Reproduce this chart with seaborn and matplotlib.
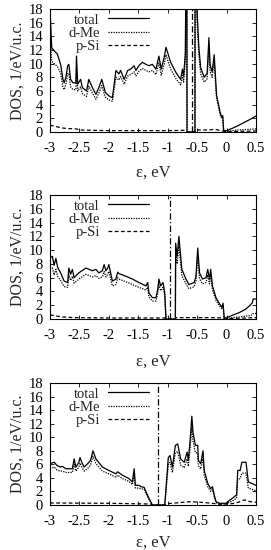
import matplotlib
matplotlib.use("Agg")
import matplotlib.pyplot as plt
import seaborn as sns
import pandas as pd

# ---------------- data ----------------
# Panel 1
x1 = [-3.00, -2.99, -2.97, -2.93, -2.875, -2.82, -2.78, -2.76, -2.73, -2.70, -2.68, -2.65, -2.61, -2.56,
      -2.55, -2.53, -2.48, -2.45, -2.38, -2.34, -2.28, -2.22, -2.17, -2.12, -2.06, -2.00, -1.94, -1.88,
      -1.83, -1.80, -1.74, -1.68, -1.63, -1.57, -1.54, -1.49, -1.43, -1.37, -1.32, -1.26, -1.20, -1.15,
      -1.11, -1.06, -1.03, -0.95, -0.86, -0.78, -0.75, -0.73, -0.70, -0.69, -0.675, -0.672, -0.537,
      -0.535, -0.51, -0.503, -0.49, -0.47, -0.44, -0.38, -0.33, -0.30, -0.28, -0.245, -0.21, -0.195,
      -0.17, -0.11, -0.085, -0.065, -0.05, 0.0, 0.1, 0.2, 0.3, 0.4, 0.5]
total1 = [18.0, 16.0, 12.3, 11.9, 11.4, 9.9, 7.7, 7.2, 8.0, 9.7, 9.9, 7.7, 7.2, 7.2,
          11.1, 7.0, 7.7, 6.5, 6.0, 7.7, 6.5, 5.5, 6.5, 7.7, 5.8, 5.3, 5.0, 9.0,
          8.5, 9.0, 7.7, 9.0, 9.2, 9.7, 9.0, 9.7, 10.2, 9.9, 9.7, 9.9, 9.2, 11.1,
          9.2, 10.9, 12.4, 10.2, 8.7, 7.7, 9.2, 8.2, 11.6, 25.0, 25.0, 0.0, 0.0,
          25.0, 25.0, 18.0, 15.7, 12.3, 9.4, 8.0, 8.6, 13.8, 9.8, 8.8, 11.3, 9.0,
          5.4, 2.9, 2.2, 2.4, 0.2, 0.2, 0.55, 0.95, 1.4, 1.85, 2.35]
dme1 = [16.5, 13.0, 10.3, 10.0, 9.6, 8.6, 6.6, 6.2, 7.0, 8.5, 8.6, 6.6, 6.2, 6.2,
        9.5, 6.0, 6.6, 5.6, 5.2, 6.7, 5.7, 4.8, 5.7, 6.8, 5.1, 4.7, 4.5, 8.0,
        7.6, 8.1, 7.0, 8.2, 8.4, 8.8, 8.2, 8.9, 9.3, 9.0, 8.8, 9.0, 8.4, 10.1,
        8.3, 9.9, 11.3, 9.2, 7.8, 6.9, 8.3, 7.3, 10.5, 23.0, 23.0, 0.0, 0.0,
        23.0, 23.0, 16.5, 14.3, 11.2, 8.5, 7.3, 7.8, 12.6, 8.9, 8.0, 10.3, 8.2,
        4.9, 2.6, 2.0, 2.1, 0.15, 0.1, 0.2, 0.3, 0.35, 0.4, 0.45]
xs1 = [-3.0, -2.9, -2.8, -2.7, -2.55, -2.5, -2.3, -2.0, -1.5, -1.0, -0.7, -0.672, -0.537, -0.53,
       -0.3, -0.2, -0.1, 0.0, 0.5]
psi1 = [1.0, 0.8, 0.6, 0.5, 0.45, 0.3, 0.25, 0.2, 0.2, 0.2, 0.25, 0.0, 0.0, 0.3,
        0.3, 0.4, 0.2, 0.05, 0.15]

# Panel 2
x2 = [-3.00, -2.96, -2.93, -2.90, -2.87, -2.82, -2.76, -2.70, -2.68, -2.65, -2.62, -2.59, -2.51, -2.39,
      -2.28, -2.22, -2.17, -2.11, -2.08, -2.05, -2.02, -2.00, -1.94, -1.88, -1.85, -1.83, -1.71, -1.60,
      -1.49, -1.37, -1.34, -1.32, -1.26, -1.20, -1.17, -1.15, -1.12, -1.08, -1.05, -1.03, -0.87,
      -0.865, -0.84, -0.81, -0.76, -0.69, -0.64, -0.55, -0.52, -0.49, -0.46, -0.41, -0.35, -0.32,
      -0.29, -0.27, -0.24, -0.18, -0.12, -0.08, -0.06, -0.04, 0.02, 0.1, 0.22, 0.32, 0.39, 0.44,
      0.45, 0.50]
total2 = [8.9, 9.1, 7.8, 8.8, 7.5, 6.7, 5.5, 5.3, 7.4, 6.5, 7.2, 6.0, 6.7, 7.4,
          7.0, 7.2, 6.7, 7.0, 7.9, 7.0, 7.4, 7.9, 5.5, 5.8, 6.8, 6.6, 6.2, 5.8,
          5.3, 4.8, 5.3, 3.8, 3.1, 3.1, 4.3, 5.8, 4.8, 5.3, 3.8, 0.0, 0.0,
          11.0, 9.1, 12.0, 7.2, 5.8, 5.0, 5.3, 6.2, 10.3, 6.7, 5.8, 6.0, 7.2,
          5.8, 7.2, 4.8, 3.1, 2.2, 1.7, 2.3, 0.1, 0.25, 0.55, 0.95, 1.4, 1.9, 2.4,
          2.9, 2.9]
dme2 = [7.2, 7.4, 6.4, 7.2, 6.2, 5.6, 4.7, 4.6, 6.4, 5.6, 6.2, 5.2, 5.8, 6.5,
        6.1, 6.3, 5.9, 6.1, 6.9, 6.1, 6.5, 6.9, 4.8, 5.0, 6.0, 5.8, 5.4, 5.0,
        4.6, 4.2, 4.6, 3.2, 2.6, 2.6, 3.7, 5.0, 4.1, 4.6, 3.3, 0.0, 0.0,
        9.8, 8.0, 10.7, 6.3, 5.1, 4.4, 4.7, 5.5, 9.2, 5.9, 5.1, 5.3, 6.4,
        5.1, 6.4, 4.2, 2.7, 1.9, 1.5, 2.0, 0.05, 0.1, 0.2, 0.3, 0.4, 0.5, 0.6,
        0.8, 0.8]
xs2 = [-3.0, -2.9, -2.8, -2.6, -2.0, -1.05, -1.03, -0.87, -0.86, -0.3, -0.05, 0.0, 0.5]
psi2 = [0.6, 0.45, 0.3, 0.2, 0.15, 0.15, 0.0, 0.0, 0.2, 0.2, 0.15, 0.05, 0.2]

# Panel 3
x3 = [-3.00, -2.93, -2.875, -2.82, -2.79, -2.73, -2.62, -2.59, -2.56, -2.51, -2.49, -2.46, -2.42, -2.36,
      -2.31, -2.27, -2.22, -2.11, -2.00, -1.88, -1.85, -1.77, -1.66, -1.60, -1.57, -1.55, -1.49, -1.45,
      -1.40, -1.37, -1.32, -1.26, -1.05, -0.99, -0.96, -0.92, -0.87, -0.83, -0.78, -0.72, -0.67, -0.65,
      -0.62, -0.59, -0.57, -0.53, -0.49, -0.48, -0.44, -0.40, -0.38, -0.32, -0.27, -0.24, -0.21, -0.18,
      -0.12, -0.01, 0.05, 0.10, 0.17, 0.19, 0.23, 0.26, 0.33, 0.37, 0.50]
total3 = [6.1, 6.3, 5.8, 5.6, 5.7, 5.35, 5.35, 6.8, 5.6, 6.3, 7.0, 6.3, 5.6, 6.1,
          6.6, 8.0, 6.8, 5.6, 5.1, 4.6, 4.9, 4.4, 3.9, 3.4, 5.35, 2.9, 2.9, 2.7,
          2.6, 1.95, 1.0, 0.0, 0.0, 7.0, 7.3, 5.6, 8.8, 9.0, 6.8, 6.3, 7.8, 6.6,
          9.5, 13.1, 10.7, 8.8, 8.8, 6.6, 6.1, 8.0, 5.1, 3.2, 2.4, 2.7, 1.5, 0.5,
          0.25, 0.25, 0.7, 1.0, 1.5, 5.1, 5.1, 6.3, 6.3, 3.4, 2.9]
dme3 = [5.4, 5.6, 5.1, 5.0, 5.0, 4.8, 4.8, 6.0, 5.0, 5.6, 6.2, 5.6, 5.0, 5.4,
        5.9, 7.2, 6.1, 5.0, 4.6, 4.1, 4.4, 3.9, 3.5, 3.0, 4.7, 2.5, 2.5, 2.4,
        2.3, 1.7, 0.85, 0.0, 0.0, 6.0, 6.3, 4.8, 7.7, 7.9, 5.9, 5.5, 6.8, 5.7,
        8.3, 11.5, 9.4, 7.7, 7.7, 5.8, 5.3, 7.0, 4.4, 2.7, 2.0, 2.3, 1.2, 0.35,
        0.15, 0.15, 0.4, 0.6, 1.0, 3.8, 3.9, 4.7, 4.7, 2.5, 2.1]
xs3 = [-3.0, -2.0, -1.3, -1.26, -1.05, -1.0, -0.6, -0.3, -0.1, 0.1, 0.2, 0.3, 0.4, 0.5]
psi3 = [0.3, 0.25, 0.15, 0.0, 0.0, 0.2, 0.5, 0.3, 0.1, 0.2, 0.4, 0.75, 0.5, 0.4]

ef_levels = [-0.59, -0.96, -1.16]
xticks = [-3, -2.5, -2, -1.5, -1, -0.5, 0, 0.5]
xticklabels = ["-3", "-2.5", "-2", "-1.5", "-1", "-0.5", "0", "0.5"]
yticks = [0, 2, 4, 6, 8, 10, 12, 14, 16, 18]
labels = ["total", "d-Me", "p-Si"]

panels = [(x1, total1, dme1, xs1, psi1), (x2, total2, dme2, xs2, psi2), (x3, total3, dme3, xs3, psi3)]

# ---------------- figure ----------------
sns.set_style("ticks")
plt.rcParams["font.family"] = ["Liberation Serif", "DejaVu Serif"]
plt.rcParams["font.size"] = 11
plt.rcParams["axes.linewidth"] = 0.8

W, H = 271, 550
fig = plt.figure(figsize=(W / 100, H / 100), dpi=100)
boxes = [(9, 132), (195, 319), (383, 505)]
xlabel_pads = [7, 8, 4.5]
left_px, right_px = 50, 256

for i, ((xx, tt, dd, xs, ps), (top, bot)) in enumerate(zip(panels, boxes)):
    ax = fig.add_axes([left_px / W, 1 - bot / H, (right_px - left_px) / W, (bot - top) / H])
    df = pd.DataFrame({"e": xx, "total": tt, "dme": dd})
    dfs = pd.DataFrame({"e": xs, "psi": ps})
    sns.lineplot(data=df, x="e", y="total", ax=ax, color="black", lw=0.9,
                 estimator=None, sort=False, label=labels[0])
    sns.lineplot(data=df, x="e", y="dme", ax=ax, color="black", lw=0.9,
                 estimator=None, sort=False, label=labels[1], linestyle=(0, (1, 1)))
    sns.lineplot(data=dfs, x="e", y="psi", ax=ax, color="black", lw=0.9,
                 estimator=None, sort=False, label=labels[2], linestyle=(0, (3, 2)))
    ax.axvline(ef_levels[i], color="black", lw=0.9, linestyle=(0, (5, 2, 1, 2)))
    ax.set_xlim(-3, 0.5)
    ax.set_ylim(0, 18)
    ax.set_xticks(xticks)
    ax.set_xticklabels(xticklabels)
    ax.set_yticks(yticks)
    ax.tick_params(direction="in", top=True, right=True, length=3, width=0.6,
                   labelsize=10.5, pad=5, colors="black")
    ax.tick_params(axis="x", pad=7.5)
    for s in ax.spines.values():
        s.set_visible(True)
        s.set_color("black")
    ax.set_xlabel("ε, eV", fontsize=12, labelpad=xlabel_pads[i])
    ax.set_ylabel("DOS, 1/eV/u.c.", fontsize=11.5, labelpad=2)
    leg = ax.legend(loc="upper right", bbox_to_anchor=(0.5, 1.0), frameon=False,
                    markerfirst=False, handlelength=2.8, handletextpad=0.55,
                    labelspacing=0.0, fontsize=10.5, borderaxespad=0.0, borderpad=0.3)
    try:
        leg._legend_box._children[1]._children[0].align = "right"
    except Exception:
        pass

fig.savefig("out.png", dpi=100)
